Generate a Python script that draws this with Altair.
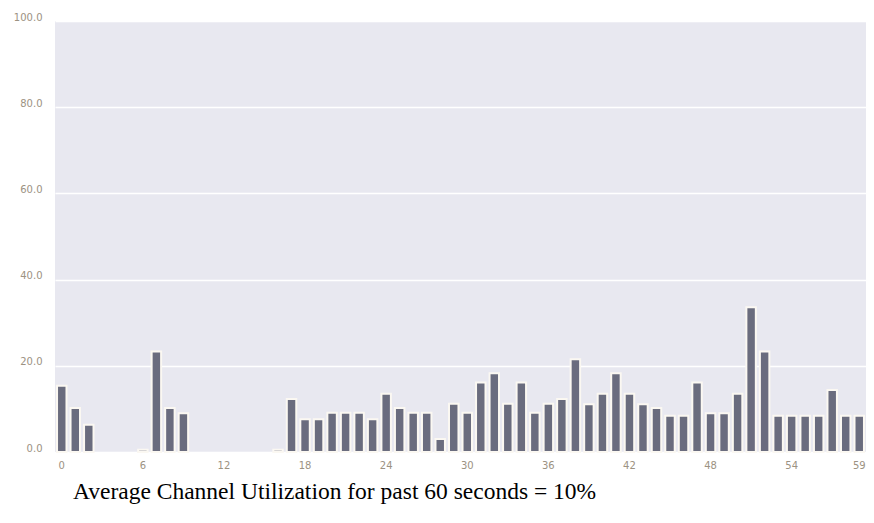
import altair as alt
import pandas as pd

seconds = list(range(60))
utilization = [15.4, 10.2, 6.3, None, None, None, 0.5, 23.3, 10.2, 9.0,
               None, None, None, None, None, None, 0.5, 12.3, 7.6, 7.6,
               9.1, 9.1, 9.1, 7.6, 13.5, 10.2, 9.1, 9.1, 3.0, 11.2,
               9.1, 16.1, 18.3, 11.2, 16.1, 9.1, 11.2, 12.3, 21.5, 11.1,
               13.5, 18.3, 13.5, 11.1, 10.2, 8.4, 8.4, 16.1, 9.0, 9.0,
               13.5, 33.6, 23.3, 8.4, 8.4, 8.4, 8.4, 14.4, 8.4, 8.4]
x_ticks = [0, 6, 12, 18, 24, 30, 36, 42, 48, 54, 59]
y_ticks = [0, 20, 40, 60, 80, 100]
title_text = "Average Channel Utilization for past 60 seconds = 10%"

df = pd.DataFrame({"second": seconds, "util": utilization}).dropna()

label_color = "#9c9282"

chart = alt.Chart(df).mark_bar(
    color="#6a6c7e", stroke="#fbf8f2", strokeWidth=2
).encode(
    x=alt.X("second:O",
            scale=alt.Scale(domain=seconds, paddingInner=0.3, paddingOuter=0.15),
            axis=alt.Axis(values=x_ticks, title=None, labelAngle=0, domain=False,
                          ticks=False, labelPadding=8, labelFont="DejaVu Sans",
                          labelFontSize=10, labelColor=label_color, grid=False)),
    y=alt.Y("util:Q",
            scale=alt.Scale(domain=[0, 100], nice=False),
            axis=alt.Axis(values=y_ticks, format=".1f", title=None, domain=False,
                          ticks=False, labelPadding=13, labelFont="DejaVu Sans",
                          labelFontSize=10, labelColor=label_color,
                          labelBaseline="alphabetic", labelOffset=-1,
                          gridColor="white", gridWidth=1.5)),
).properties(
    width=811,
    height=431,
    autosize=alt.AutoSizeParams(type="none"),
    padding={"left": 47, "top": 13, "right": 0, "bottom": 56},
    title=alt.TitleParams(title_text, orient="bottom", anchor="start", frame="group",
                          dx=18, offset=10, font="Liberation Serif", fontSize=23.5,
                          fontWeight="normal", color="black"),
).configure_view(
    fill="#e8e8f0", strokeWidth=0
)

chart.save("out.html", embed_options={"renderer": "svg", "actions": False})
